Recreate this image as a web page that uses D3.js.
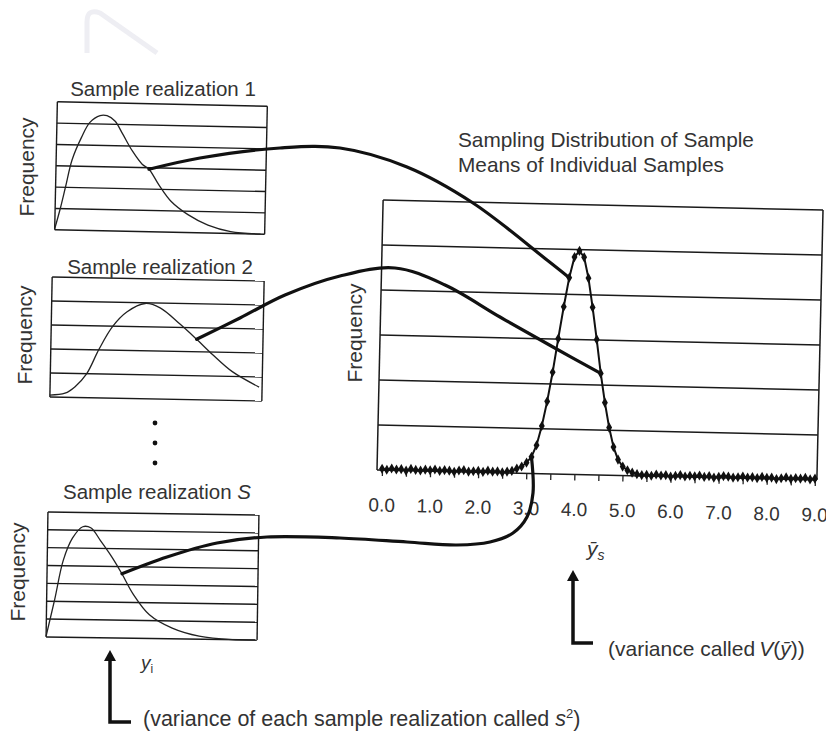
<!DOCTYPE html>
<html>
<head>
<meta charset="utf-8">
<script src="https://cdn.jsdelivr.net/npm/d3@7"></script>
<style>
    body { margin: 0; background: #fff; }
    svg { display: block; font-family: "Liberation Sans", Arial, "DejaVu Sans", sans-serif; }
    text { fill: #333; }
</style>
</head>
<body>
<svg width="826" height="744"></svg>
<script>
// кривые выборок: x в долях ширины панели (0..10), y в делениях сетки
const sample1X = [0, 0.24, 0.48, 0.76, 1.19, 1.57, 2.05, 2.38, 2.76, 3.14, 3.62, 4.1, 4.43, 4.9, 5.52, 6.33, 7.29, 8.38, 9.8];
const sample1Y = [0.05, 0.98, 2.05, 3.3, 4.37, 5.07, 5.4, 5.4, 5.16, 4.56, 3.77, 3.16, 2.93, 2.23, 1.44, 0.84, 0.37, 0.09, 0];

const sample2X = [0, 0.71, 1.18, 1.71, 2.27, 2.89, 3.55, 4.41, 5.12, 6.07, 6.87, 7.63, 8.58, 9.86];
const sample2Y = [0.08, 0.17, 0.45, 0.99, 2.02, 2.98, 3.6, 3.97, 3.8, 3.14, 2.52, 1.9, 1.2, 0.58];

const sampleSX = [0, 0.38, 0.76, 1.18, 1.66, 2.04, 2.51, 3.08, 3.55, 4.08, 4.88, 5.97, 7.25, 8.82, 9.95];
const sampleSY = [0.05, 2.1, 4.3, 5.55, 6.2, 6.15, 5.44, 4.5, 3.6, 2.5, 1.33, 0.6, 0.17, 0, 0];

// распределение выборочных средних (шаг 0.1 от 0.0 до 9.0)
const meanX = d3.range(91).map(i => i / 10);
const meanY = [
    0.03, 0.01, 0.04, 0.02, 0.03, 0.00, 0.04, 0.02, 0.01, 0.03, 0.02, 0.04, 0.01, 0.03,
    0.02, 0.00, 0.03, 0.04, 0.01, 0.02, 0.03, 0.01, 0.04, 0.02, 0.03, 0.01, 0.03, 0.05,
    0.1, 0.15, 0.24, 0.37, 0.63, 1.06, 1.61, 2.26, 3.01, 3.72, 4.37, 4.83, 4.97, 4.83, 4.37,
    3.72, 3.01, 2.26, 1.61, 1.06, 0.63, 0.35, 0.2, 0.12, 0.07,
    0.04, 0.02, 0.03, 0.01, 0.04, 0.02, 0.03, 0.00, 0.02, 0.04, 0.01, 0.03, 0.02, 0.04,
    0.01, 0.03, 0.00, 0.02, 0.04, 0.03, 0.01, 0.02, 0.04, 0.02, 0.03, 0.01, 0.04, 0.02,
    0.03, 0.00, 0.02, 0.04, 0.01, 0.03, 0.02, 0.04, 0.01, 0.03
];
const meanTicks = [0, 1, 2, 3, 4, 5, 6, 7, 8, 9];

const svg = d3.select('svg');

// поворот точки вокруг центра (картинка слегка наклонена)
function rot(p, cx, cy, deg) {
    const a = deg * Math.PI / 180;
    const dx = p[0] - cx, dy = p[1] - cy;
    return [cx + dx * Math.cos(a) - dy * Math.sin(a), cy + dx * Math.sin(a) + dy * Math.cos(a)];
}

// водяной знак сверху
svg.append('path')
    .attr('d', 'M87,53 V22 Q87,8 100,13 L157,53')
    .attr('fill', 'none')
    .attr('stroke', '#eeeef3')
    .attr('stroke-width', 5);

// маленькая панель с кривой выборки
function drawPanel(p) {
    const g = svg.append('g')
        .attr('transform', `rotate(${p.angle}, ${p.cx}, ${p.cy})`);
    const x0 = p.cx - p.w / 2, x1 = p.cx + p.w / 2;
    const y0 = p.cy - p.h / 2, y1 = p.cy + p.h / 2;
    const sx = d3.scaleLinear().domain([0, 10]).range([x0, x1]);
    const sy = d3.scaleLinear().domain([0, p.lines]).range([y1, y0]);

    g.selectAll('.grid')
        .data(d3.range(p.lines + 1))
        .enter()
        .append('line')
        .attr('x1', x0).attr('x2', x1)
        .attr('y1', d => sy(d)).attr('y2', d => sy(d))
        .attr('stroke', '#1a1a1a')
        .attr('stroke-width', 1.4);

    g.append('line').attr('x1', x0).attr('x2', x0).attr('y1', y0).attr('y2', y1)
        .attr('stroke', '#1a1a1a').attr('stroke-width', 1.4);
    g.append('line').attr('x1', x1).attr('x2', x1).attr('y1', y0).attr('y2', y1)
        .attr('stroke', '#1a1a1a').attr('stroke-width', 1.4);

    const pts = p.xs.map((x, i) => [sx(x), sy(p.ys[i])]);
    g.append('path')
        .attr('d', d3.line().curve(d3.curveCatmullRom)(pts))
        .attr('fill', 'none')
        .attr('stroke', '#222')
        .attr('stroke-width', 1.3);

    // заголовок панели
    const t = svg.append('text')
        .attr('x', p.titleX).attr('y', p.titleY)
        .attr('text-anchor', 'middle')
        .style('font-size', '20.5px')
        .text('Sample realization ');
    t.append('tspan').style('font-style', p.italic ? 'italic' : 'normal').text(p.num);

    svg.append('text')
        .attr('transform', `translate(${p.freqX}, ${p.freqY}) rotate(-90)`)
        .attr('text-anchor', 'middle')
        .attr('dy', '0.35em')
        .style('font-size', '21px')
        .text('Frequency');

    // точка, откуда выходит соединительная линия
    const a = pts[p.anchor];
    return rot(a, p.cx, p.cy, p.angle);
}

const start1 = drawPanel({cx: 161, cy: 168, w: 210, h: 128, lines: 6, angle: 1.2,
    xs: sample1X, ys: sample1Y, anchor: 12, num: '1', titleX: 163, titleY: 96, freqX: 27, freqY: 167});
const start2 = drawPanel({cx: 157, cy: 339, w: 212, h: 120, lines: 5, angle: 1.1,
    xs: sample2X, ys: sample2Y, anchor: 10, num: '2', titleX: 160, titleY: 274, freqX: 25, freqY: 335});
const startS = drawPanel({cx: 152.5, cy: 576, w: 211, h: 125, lines: 7, angle: 0.85,
    xs: sampleSX, ys: sampleSY, anchor: 8, num: 'S', italic: true, titleX: 157, titleY: 499, freqX: 18, freqY: 572});

// три точки между панелями
svg.selectAll('.dots')
    .data([423, 443, 463])
    .enter()
    .append('circle')
    .attr('cx', 155).attr('cy', d => d).attr('r', 2.4)
    .attr('fill', '#111');

// основной график
const main = {cx: 600, cy: 340, w: 440, h: 270, lines: 6, angle: 1.3};
const mx0 = main.cx - main.w / 2, mx1 = main.cx + main.w / 2;
const my0 = main.cy - main.h / 2, my1 = main.cy + main.h / 2;
const scaleX = d3.scaleLinear().domain([0, 9]).range([385, 818]);
const scaleY = d3.scaleLinear().domain([0, main.lines]).range([my1, my0]);

const mg = svg.append('g')
    .attr('transform', `rotate(${main.angle}, ${main.cx}, ${main.cy})`);

mg.selectAll('.grid')
    .data(d3.range(main.lines + 1))
    .enter()
    .append('line')
    .attr('x1', mx0).attr('x2', mx1)
    .attr('y1', d => scaleY(d)).attr('y2', d => scaleY(d))
    .attr('stroke', '#1a1a1a')
    .attr('stroke-width', 1.5);
mg.append('line').attr('x1', mx0).attr('x2', mx0).attr('y1', my0).attr('y2', my1)
    .attr('stroke', '#1a1a1a').attr('stroke-width', 1.5);
mg.append('line').attr('x1', mx1).attr('x2', mx1).attr('y1', my0).attr('y2', my1)
    .attr('stroke', '#1a1a1a').attr('stroke-width', 1.5);

// мелкие засечки оси OX
const axisTicks = d3.axisBottom(scaleX).tickValues(d3.range(0, 9.01, 0.5)).tickSize(6).tickFormat('');
mg.append('g')
    .attr('transform', `translate(0, ${my1})`)
    .call(axisTicks)
    .call(g => g.select('.domain').remove())
    .selectAll('line').attr('stroke', '#222').attr('stroke-width', 1.3);

// подписи оси OX
const axisLabels = d3.axisBottom(scaleX).tickValues(meanTicks).tickSize(0).tickPadding(28)
    .tickFormat(d3.format('.1f'));
mg.append('g')
    .attr('transform', `translate(0, ${my1})`)
    .call(axisLabels)
    .call(g => g.select('.domain').remove())
    .selectAll('text')
    .style('font-size', '19px')
    .style('font-family', '"Liberation Sans", Arial, sans-serif')
    .attr('fill', '#333');

const meanPts = meanX.map((x, i) => [scaleX(x), scaleY(meanY[i])]);
mg.append('path')
    .attr('d', d3.line()(meanPts))
    .attr('fill', 'none')
    .attr('stroke', '#111')
    .attr('stroke-width', 2);

mg.selectAll('.dot')
    .data(meanPts)
    .enter()
    .append('path')
    .attr('d', d3.symbol().type(d3.symbolDiamond).size(30))
    .attr('transform', d => `translate(${d[0]}, ${d[1]})`)
    .attr('fill', '#111');

// подписи основного графика
svg.append('text').attr('x', 458).attr('y', 147).style('font-size', '20.8px')
    .text('Sampling Distribution of Sample');
svg.append('text').attr('x', 458).attr('y', 172).style('font-size', '20.8px')
    .text('Means of Individual Samples');
svg.append('text')
    .attr('transform', 'translate(355, 333) rotate(-90)')
    .attr('text-anchor', 'middle')
    .attr('dy', '0.35em')
    .style('font-size', '21px')
    .text('Frequency');

const ybar = svg.append('text').attr('x', 587).attr('y', 556).style('font-size', '21px');
ybar.append('tspan').style('font-style', 'italic').text('ȳ');
ybar.append('tspan').attr('dy', 4).style('font-style', 'italic').style('font-size', '14px').text('s');

const yi = svg.append('text').attr('x', 141).attr('y', 669).style('font-size', '19px');
yi.append('tspan').style('font-style', 'italic').text('y');
yi.append('tspan').attr('dy', 4).style('font-size', '12px').text('i');

// соединительные линии от выборок к точкам распределения
const meanPoint = i => rot(meanPts[i], main.cx, main.cy, main.angle);
const conn1 = [[200, 158], [280, 148], [340, 148], [407, 167], [473, 203], [547, 260]];
const conn2 = [[240, 318], [285, 295], [340, 276], [395, 268], [445, 285], [500, 317], [553, 347]];
const conn3 = [[167, 557], [217, 543], [267, 537], [340, 538], [407, 542], [457, 545], [490, 542],
    [513, 533], [527, 517], [533, 493]];

const connLine = d3.line().curve(d3.curveCatmullRom.alpha(0.5));
[[start1, conn1, 38], [start2, conn2, 45], [startS, conn3, 31]].forEach(c => {
    svg.append('path')
        .attr('d', connLine([c[0], ...c[1], meanPoint(c[2])]))
        .attr('fill', 'none')
        .attr('stroke', '#111')
        .attr('stroke-width', 3.2)
        .attr('stroke-linecap', 'round');
});

// стрелки с пояснениями
function arrow(x, yTop, yBottom, xEnd) {
    svg.append('path')
        .attr('d', `M${x},${yTop + 8} V${yBottom} H${xEnd}`)
        .attr('fill', 'none')
        .attr('stroke', '#111')
        .attr('stroke-width', 3.5);
    svg.append('path')
        .attr('d', `M${x},${yTop} L${x - 6},${yTop + 11} L${x + 6},${yTop + 11} Z`)
        .attr('fill', '#111');
}
arrow(110, 650, 722, 131);
arrow(573, 570, 643, 593);

const t1 = svg.append('text').attr('x', 143).attr('y', 726).style('font-size', '21.5px')
    .text('(variance of each sample realization called ');
t1.append('tspan').style('font-style', 'italic').text('s');
t1.append('tspan').attr('dy', -8).style('font-size', '13px').text('2');
t1.append('tspan').attr('dy', 8).text(')');

const t2 = svg.append('text').attr('x', 608).attr('y', 656).style('font-size', '21px')
    .text('(variance called\u2009');
t2.append('tspan').style('font-style', 'italic').text('V');
t2.append('tspan').text('(');
t2.append('tspan').style('font-style', 'italic').text('ȳ');
t2.append('tspan').text('))');
</script>
</body>
</html>
